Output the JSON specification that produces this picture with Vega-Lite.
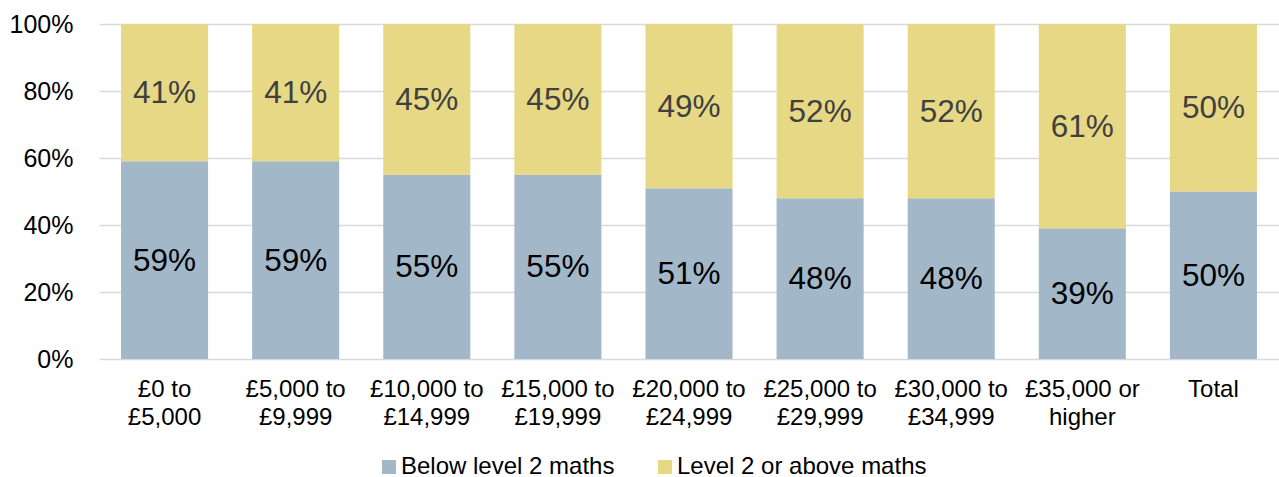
{
  "$schema": "https://vega.github.io/schema/vega-lite/v6.json",
  "autosize": {"type": "none"},
  "width": 1180,
  "height": 335,
  "padding": {"left": 99, "top": 24, "right": 0, "bottom": 118},
  "background": "white",
  "config": {
    "font": "Liberation Sans",
    "view": {"stroke": null}
  },
  "data": {
    "values": [
      {"category": "£0 to £5,000", "series": "Below level 2 maths", "pct": 0.59},
      {"category": "£0 to £5,000", "series": "Level 2 or above maths", "pct": 0.41},
      {"category": "£5,000 to £9,999", "series": "Below level 2 maths", "pct": 0.59},
      {"category": "£5,000 to £9,999", "series": "Level 2 or above maths", "pct": 0.41},
      {"category": "£10,000 to £14,999", "series": "Below level 2 maths", "pct": 0.55},
      {"category": "£10,000 to £14,999", "series": "Level 2 or above maths", "pct": 0.45},
      {"category": "£15,000 to £19,999", "series": "Below level 2 maths", "pct": 0.55},
      {"category": "£15,000 to £19,999", "series": "Level 2 or above maths", "pct": 0.45},
      {"category": "£20,000 to £24,999", "series": "Below level 2 maths", "pct": 0.51},
      {"category": "£20,000 to £24,999", "series": "Level 2 or above maths", "pct": 0.49},
      {"category": "£25,000 to £29,999", "series": "Below level 2 maths", "pct": 0.48},
      {"category": "£25,000 to £29,999", "series": "Level 2 or above maths", "pct": 0.52},
      {"category": "£30,000 to £34,999", "series": "Below level 2 maths", "pct": 0.48},
      {"category": "£30,000 to £34,999", "series": "Level 2 or above maths", "pct": 0.52},
      {"category": "£35,000 or higher", "series": "Below level 2 maths", "pct": 0.39},
      {"category": "£35,000 or higher", "series": "Level 2 or above maths", "pct": 0.61},
      {"category": "Total", "series": "Below level 2 maths", "pct": 0.50},
      {"category": "Total", "series": "Level 2 or above maths", "pct": 0.50}
    ]
  },
  "layer": [
    {
      "mark": {"type": "bar"},
      "encoding": {
        "x": {
          "field": "category",
          "type": "nominal",
          "sort": null,
          "scale": {"paddingInner": 0.336, "paddingOuter": 0.168},
          "axis": {
            "title": null,
            "labelAngle": 0,
            "domain": false,
            "ticks": false,
            "labelFontSize": 24,
            "labelColor": "#000000",
            "labelPadding": 18,
            "labelLineHeight": 28.5,
            "labelLimit": 300,
            "labelExpr": "indexof(datum.value, ' ') < 0 ? datum.value : [slice(datum.value, 0, lastindexof(datum.value, ' ')), slice(datum.value, lastindexof(datum.value, ' ') + 1)]"
          }
        },
        "y": {
          "field": "pct",
          "type": "quantitative",
          "stack": "zero",
          "scale": {"domain": [0, 1], "nice": false},
          "axis": {
            "title": null,
            "values": [0, 0.2, 0.4, 0.6, 0.8, 1],
            "format": ".0%",
            "domain": false,
            "ticks": false,
            "labelFontSize": 25,
            "labelColor": "#000000",
            "labelPadding": 26,
            "gridColor": "#d9d9d9",
            "gridWidth": 1.5
          }
        },
        "color": {
          "field": "series",
          "type": "nominal",
          "scale": {
            "domain": ["Below level 2 maths", "Level 2 or above maths"],
            "range": ["#A2B8C8", "#E6D885"]
          },
          "legend": {
            "title": null,
            "orient": "none",
            "direction": "horizontal",
            "legendX": 278,
            "legendY": 431,
            "symbolType": "square",
            "symbolSize": 196,
            "symbolStrokeWidth": 0,
            "labelFontSize": 24,
            "labelColor": "#000000",
            "labelOffset": 0,
            "columnPadding": 38,
            "labelLimit": 0
          }
        },
        "order": {"field": "series", "sort": "ascending"}
      }
    },
    {
      "transform": [
        {"stack": "pct", "groupby": ["category"], "sort": [{"field": "series", "order": "ascending"}], "as": ["v0", "v1"]},
        {"fold": ["v0", "v1"], "as": ["edge", "pos"]}
      ],
      "mark": {"type": "text", "fontSize": 31.5, "baseline": "middle", "align": "center", "dy": 1.5},
      "encoding": {
        "x": {"field": "category", "type": "nominal", "sort": null},
        "y": {"aggregate": "mean", "field": "pos", "type": "quantitative"},
        "detail": {"field": "series", "type": "nominal"},
        "text": {"aggregate": "max", "field": "pct", "type": "quantitative", "format": ".0%"},
        "color": {
          "condition": {"test": "datum.series === 'Below level 2 maths'", "value": "#000000"},
          "value": "#404040"
        }
      }
    }
  ]
}
